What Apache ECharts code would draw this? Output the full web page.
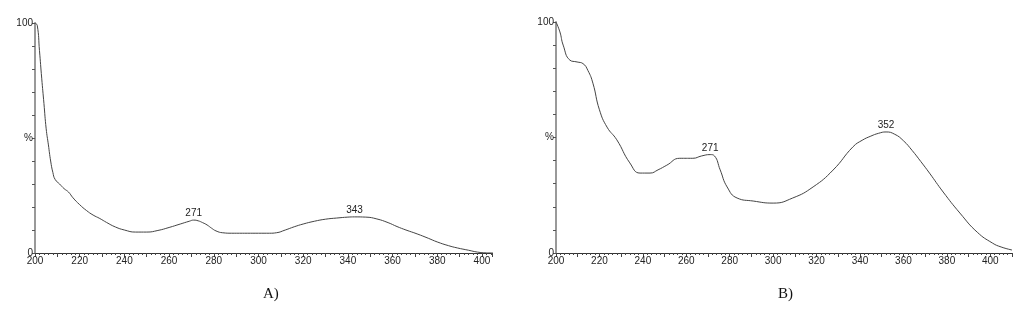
<!DOCTYPE html>
<html><head><meta charset="utf-8">
<script src="https://cdn.jsdelivr.net/npm/echarts@6/dist/echarts.min.js"></script>
<style>html,body{margin:0;padding:0;background:#fff}#c{width:1022px;height:312px}</style>
</head><body><div id="c"></div>
<script>
// Panel A spectrum (wavelength nm, % absorbance)
const wlA = [200,201,202,203,204,205,206,207,208,209,211,213,215,217,220,223,226,229,232,236,240,245,250,255,260,265,269,271,273,275,277,279,281,284,288,295,300,305,308,312,316,320,325,330,335,340,343,348,353,358,362,366,371,376,380,385,389,394,398,402,405];
const valA = [100,99,88,76,65,54,47,40,35,32,30,28,26.5,24,21,18.5,16.5,15,13.3,11.3,10,9.1,9.1,9.8,11.1,12.6,13.8,14.3,14,13.2,12.2,10.8,9.6,8.8,8.6,8.6,8.6,8.6,8.8,10,11.4,12.6,13.8,14.7,15.2,15.6,15.7,15.6,14.8,13.2,11.5,10,8.3,6.4,4.8,3.2,2.2,1.2,0.4,0.05,0];
const peaksA = [271, 343];
// Panel B spectrum
const wlB = [200,201.8,203.3,206.4,209.7,212.4,214.7,217,220,223.5,228,234,238.7,243.3,247,251,257,263,267,271,273,275.6,278.8,283.4,290.8,300,309,318.4,327.6,336.8,341,345,348.5,352,356,360,364,368,372,378.3,386,394,401,405,410];
const valB = [100,95.7,90,83.5,82.7,82,79,73.5,62,54.5,49,39,34.6,34.6,36,38,41,41,42,42.6,42,36,28.6,23.8,22.5,21.6,23.8,28.6,35.9,46,48.8,50.6,51.8,52.4,51.4,48.6,44.4,39.6,34.6,26.4,17.3,9,4.3,2.6,1.3];
const peaksB = [271, 352];
const xTicks = [200,220,240,260,280,300,320,340,360,380,400];
const yLabels = {0:'0', 50:'%', 100:'100'};
const panelTitles = ['A)', 'B)'];

const chart = echarts.init(document.getElementById('c'), null, {renderer:'canvas'});
const lf = "'Liberation Sans Narrow','Arial Narrow','Liberation Sans',sans-serif";
function mkData(wl, val, peaks){
  return wl.map((w,i)=>{
    if (peaks.indexOf(w) >= 0) {
      return {value:[w,val[i]], label:{show:true, position:'top', distance:1, formatter:String(w), fontSize:10, fontFamily:lf, color:'#222'}};
    }
    return [w,val[i]];
  });
}
function xAx(idx, max){
  return {type:'value', gridIndex:idx, min:200, max:max, interval:10,
    axisLine:{show:true, onZero:false, lineStyle:{color:'#333', width:1}},
    axisTick:{show:true, length:4, inside:false, lineStyle:{color:'#444'}},
    minorTick:{show:true, splitNumber:5, length:2, lineStyle:{color:'#444'}},
    splitLine:{show:false},
    axisLabel:{margin:3, fontSize:10, fontFamily:lf, color:'#222',
      formatter:v=> xTicks.indexOf(Math.round(v*100)/100)>=0 ? String(v) : ''},
  };
}
function yAx(idx){
  return {type:'value', gridIndex:idx, min:0, max:100, interval:10,
    axisLine:{show:true, lineStyle:{color:'#999', width:2}},
    axisTick:{show:true, length:3, lineStyle:{color:'#555'}},
    splitLine:{show:false},
    axisLabel:{margin:2, fontSize:10, fontFamily:lf, color:'#222',
      formatter:v=> yLabels[v] !== undefined ? yLabels[v] : ''},
  };
}
function ser(idx, data){
  return {type:'line', xAxisIndex:idx, yAxisIndex:idx, data:data, smooth:0.5,
    showSymbol:true, symbol:'circle', symbolSize:1, itemStyle:{color:'rgba(0,0,0,0)'},
    label:{show:false}, lineStyle:{color:'#444', width:1}, emphasis:{disabled:true}};
}
chart.setOption({
  animation:false,
  backgroundColor:'#fff',
  title:[
    {text:panelTitles[0], left:258, top:282, textStyle:{fontFamily:"'Liberation Serif',serif", fontSize:15, fontWeight:'normal', color:'#111'}},
    {text:panelTitles[1], left:773, top:282, textStyle:{fontFamily:"'Liberation Serif',serif", fontSize:15, fontWeight:'normal', color:'#111'}}
  ],
  grid:[
    {left:35, right:530, top:23, bottom:59},
    {left:556, right:10, top:22, bottom:59}
  ],
  xAxis:[xAx(0, 404.5), xAx(1, 410)],
  yAxis:[yAx(0), yAx(1)],
  series:[ser(0, mkData(wlA,valA,peaksA)), ser(1, mkData(wlB,valB,peaksB))]
});
</script></body></html>
